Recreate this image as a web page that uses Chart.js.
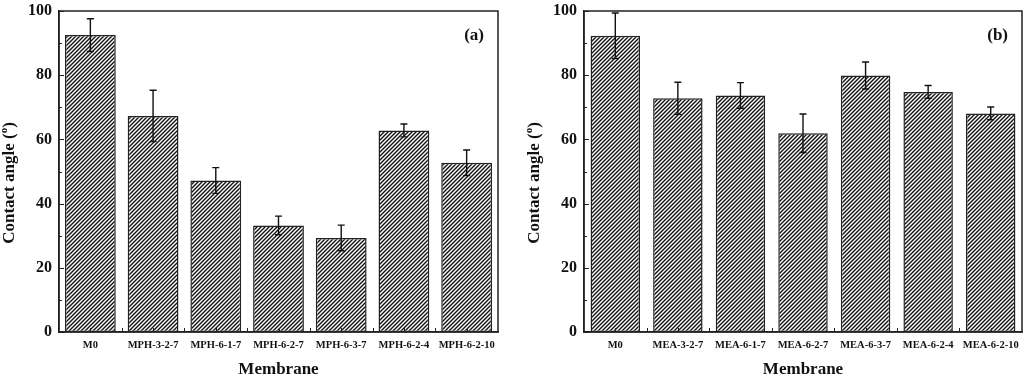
<!DOCTYPE html>
<html>
<head>
<meta charset="utf-8">
<style>
  body { margin: 0; background: #fff; }
  .panel { position: absolute; top: 0; }
</style>
</head>
<body>
<div class="panel" style="left:0"><canvas id="chartA" width="505" height="380"></canvas></div>
<div class="panel" style="left:525px"><canvas id="chartB" width="499" height="380"></canvas></div>

<script src="https://cdn.jsdelivr.net/npm/chart.js"></script>
<script>
  // data
  const categoriesA = ['M0', 'MPH-3-2-7', 'MPH-6-1-7', 'MPH-6-2-7', 'MPH-6-3-7', 'MPH-6-2-4', 'MPH-6-2-10'];
  const valuesA = [92.5, 67.3, 47.2, 33.2, 29.3, 62.8, 52.7];
  const errorsA = [5.1, 8.0, 4.0, 2.9, 4.0, 2.0, 4.0];

  const categoriesB = ['M0', 'MEA-3-2-7', 'MEA-6-1-7', 'MEA-6-2-7', 'MEA-6-3-7', 'MEA-6-2-4', 'MEA-6-2-10'];
  const valuesB = [92.3, 72.8, 73.7, 61.9, 79.9, 74.8, 68.1];
  const errorsB = [7.1, 5.0, 4.0, 6.0, 4.2, 2.0, 2.0];

  const yMin = 0, yMax = 100, yStep = 20;

  const FONT = "'Liberation Serif', 'Times New Roman', serif";

  // diagonal hatch fill like the original
  function makeHatch() {
    const s = 4;
    const c = document.createElement('canvas');
    c.width = s; c.height = s;
    const g = c.getContext('2d');
    g.fillStyle = '#fff';
    g.fillRect(0, 0, s, s);
    g.strokeStyle = '#111';
    g.lineWidth = 1.4;
    g.beginPath();
    g.moveTo(-1, s + 1); g.lineTo(s + 1, -1);
    g.moveTo(-1, 1); g.lineTo(1, -1);
    g.moveTo(s - 1, s + 1); g.lineTo(s + 1, s - 1);
    g.stroke();
    return g.createPattern(c, 'repeat');
  }
  const hatch = makeHatch();

  // frame, inward ticks, error bars, panel tag and y title
  const decorPlugin = {
    id: 'decor',
    afterDatasetsDraw(chart, args, opts) {
      const ctx = chart.ctx;
      const area = chart.chartArea;
      const ys = chart.scales.y;
      const meta = chart.getDatasetMeta(0);
      const vals = chart.data.datasets[0].data;
      ctx.save();

      // error bars
      ctx.strokeStyle = '#111';
      ctx.lineWidth = 1.4;
      meta.data.forEach((bar, i) => {
        const top = ys.getPixelForValue(vals[i] + opts.errors[i]);
        const bot = ys.getPixelForValue(vals[i] - opts.errors[i]);
        ctx.beginPath();
        ctx.moveTo(bar.x, top); ctx.lineTo(bar.x, bot);
        ctx.moveTo(bar.x - 3.5, top); ctx.lineTo(bar.x + 3.5, top);
        ctx.moveTo(bar.x - 3.5, bot); ctx.lineTo(bar.x + 3.5, bot);
        ctx.stroke();
      });

      // frame
      ctx.strokeStyle = '#222';
      ctx.lineWidth = 1.5;
      ctx.strokeRect(area.left, area.top, area.right - area.left, area.bottom - area.top);

      // y ticks pointing inward
      ctx.lineWidth = 1;
      for (let v = yMin; v <= yMax; v += yStep / 2) {
        const y = Math.round(ys.getPixelForValue(v)) + 0.5;
        const len = (v % yStep === 0) ? 5 : 3;
        ctx.beginPath();
        ctx.moveTo(area.left, y); ctx.lineTo(area.left + len, y);
        ctx.stroke();
      }
      // x ticks at centres and between bars
      const n = chart.data.labels.length;
      const w = (area.right - area.left) / n;
      for (let i = 1; i < 2 * n; i++) {
        const x = Math.round(area.left + i * w / 2) + 0.5;
        ctx.beginPath();
        ctx.moveTo(x, area.bottom); ctx.lineTo(x, area.bottom - 4);
        ctx.stroke();
      }

      // panel tag
      ctx.fillStyle = '#111';
      ctx.font = 'bold 17px ' + FONT;
      ctx.textAlign = 'right';
      ctx.textBaseline = 'middle';
      ctx.fillText(opts.tag, area.right - 14, 36);

      // y title with superscript degree mark
      ctx.translate(10, 183);
      ctx.rotate(-Math.PI / 2);
      ctx.textAlign = 'left';
      const p1 = 'Contact angle (';
      const p3 = ')';
      ctx.font = 'bold 11px ' + FONT;
      const wo = ctx.measureText('o').width;
      ctx.font = 'bold 17px ' + FONT;
      const total = ctx.measureText(p1).width + wo + ctx.measureText(p3).width;
      let x = -total / 2;
      ctx.fillText(p1, x, 0);
      x += ctx.measureText(p1).width;
      ctx.font = 'bold 11px ' + FONT;
      ctx.fillText('o', x, -6);
      x += wo;
      ctx.font = 'bold 17px ' + FONT;
      ctx.fillText(p3, x, 0);
      ctx.restore();
    }
  };

  function makeChart(id, labels, values, errors, tag, rightPad, barPct) {
    return new Chart(document.getElementById(id), {
      type: 'bar',
      data: {
        labels: labels,
        datasets: [{
          data: values,
          backgroundColor: hatch,
          borderColor: '#222',
          borderWidth: 1.5,
          borderSkipped: false,
          categoryPercentage: 1,
          barPercentage: barPct
        }]
      },
      plugins: [decorPlugin],
      options: {
        responsive: false,
        animation: false,
        layout: { padding: { top: 11, right: rightPad, left: 0, bottom: 0 } },
        plugins: {
          legend: { display: false },
          tooltip: { enabled: false },
          decor: { errors: errors, tag: tag }
        },
        scales: {
          x: {
            grid: { display: false, drawTicks: false },
            border: { display: true, color: '#222', width: 1.5 },
            ticks: {
              color: '#111',
              padding: 7,
              maxRotation: 0,
              autoSkip: false,
              font: { family: FONT, size: 10.5, weight: 'bold' }
            },
            title: {
              display: true,
              text: 'Membrane',
              color: '#111',
              padding: { top: 2, bottom: 0 },
              font: { family: FONT, size: 17, weight: 'bold' }
            },
            afterFit: (s) => { s.height = 48; s.paddingLeft = 0; s.paddingRight = 0; }
          },
          y: {
            min: yMin,
            max: yMax,
            grid: { display: false, drawTicks: false },
            border: { display: true, color: '#222', width: 1.5 },
            ticks: {
              stepSize: yStep,
              color: '#111',
              padding: 7,
              font: { family: FONT, size: 16, weight: 'bold' }
            },
            afterFit: (s) => { s.width = 59; s.paddingTop = 0; s.paddingBottom = 0; }
          }
        }
      }
    });
  }

  makeChart('chartA', categoriesA, valuesA, errorsA, '(a)', 7, 0.81);
  makeChart('chartB', categoriesB, valuesB, errorsB, '(b)', 2, 0.79);
</script>
</body>
</html>
